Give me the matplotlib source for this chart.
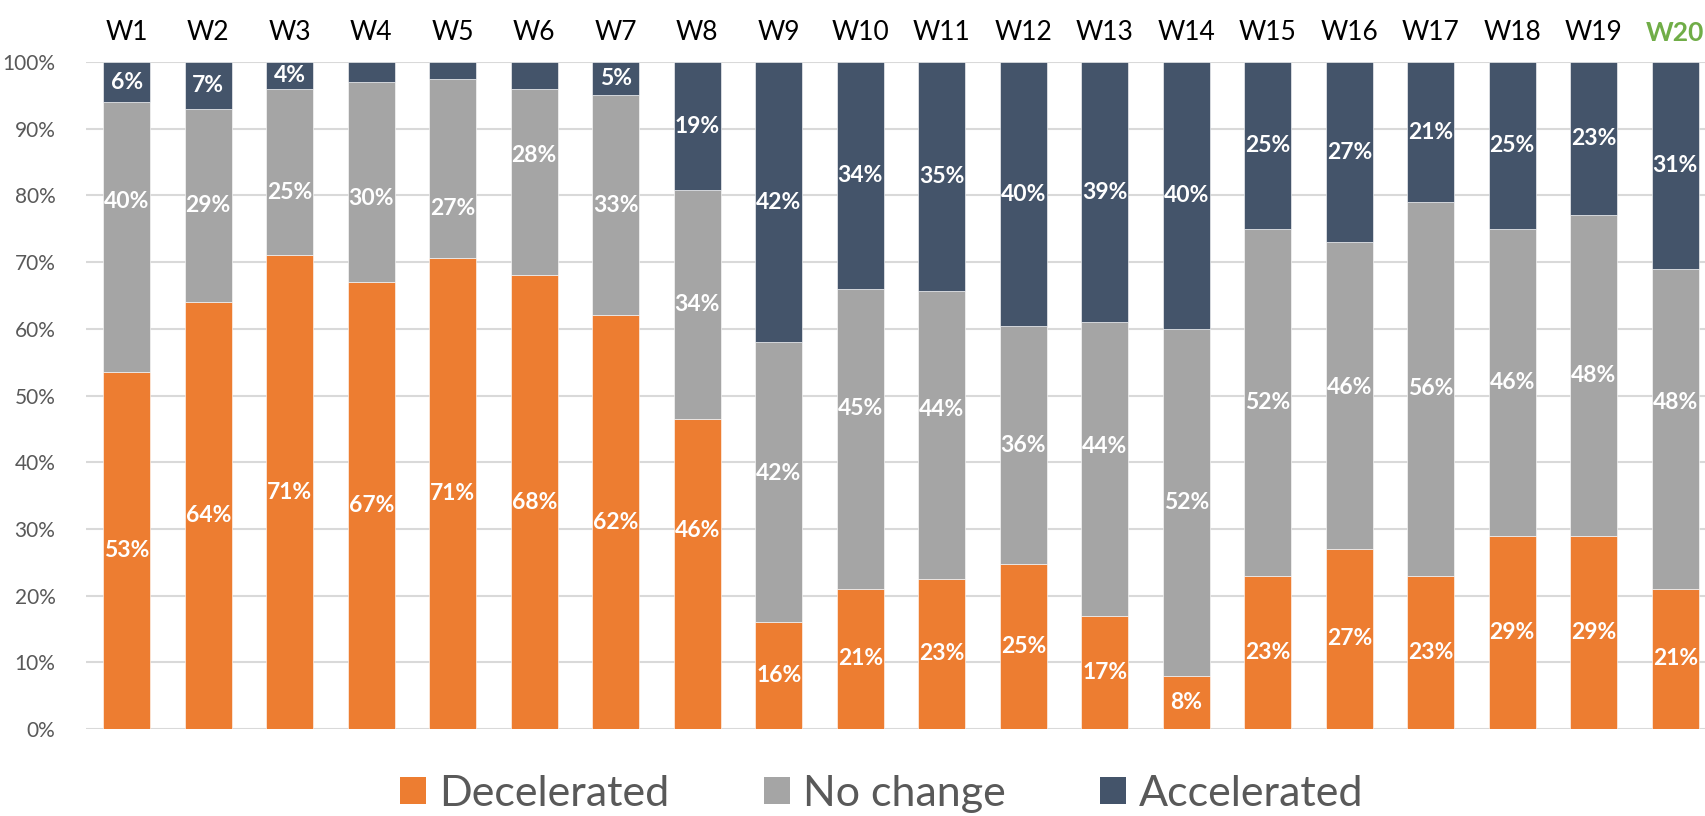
#!/usr/bin/env python3
"""Weekly share of decelerated / no change / accelerated, 100% stacked bars."""
import matplotlib
matplotlib.use('Agg')
import matplotlib.pyplot as plt
from matplotlib.patches import Patch
import numpy as np

weeks = ['W1', 'W2', 'W3', 'W4', 'W5', 'W6', 'W7', 'W8', 'W9', 'W10',
         'W11', 'W12', 'W13', 'W14', 'W15', 'W16', 'W17', 'W18', 'W19', 'W20']
decelerated = [53, 64, 71, 67, 71, 68, 62, 46, 16, 21,
               23, 25, 17, 8, 23, 27, 23, 29, 29, 21]
no_change = [40, 29, 25, 30, 27, 28, 33, 34, 42, 45,
             44, 36, 44, 52, 52, 46, 56, 46, 48, 48]
accelerated = [6, 7, 4, 3, 2.5, 4, 5, 19, 42, 34,
               35, 40, 39, 40, 25, 27, 21, 25, 23, 31]
# weeks whose accelerated label is not shown
hidden_acc = {'W4', 'W5', 'W6'}

series_names = ['Decelerated', 'No change', 'Accelerated']
colors = ['#ED7D31', '#A5A5A5', '#44546A']

# label nudges (percentage points) where labels sit off-centre in the original
label_shift = {
    ('No change', 'W1'): 5.4, ('No change', 'W3'): -3.0,
    ('No change', 'W4'): -2.4, ('No change', 'W5'): -6.0,
    ('No change', 'W6'): 4.0, ('No change', 'W9'): 1.3,
    ('No change', 'W10'): 4.5, ('No change', 'W11'): 3.8,
    ('No change', 'W13'): 3.4, ('No change', 'W16'): 1.2,
    ('No change', 'W20'): 4.0, ('Decelerated', 'W8'): 6.5,
}

plt.rcParams['font.family'] = ['Lato', 'DejaVu Sans']

data = np.array([decelerated, no_change, accelerated], dtype=float)
shares = data / data.sum(axis=0) * 100

fig = plt.figure(figsize=(17.06, 8.16), dpi=100)
ax = fig.add_axes([86 / 1706, 87 / 816, 1630 / 1706, 667 / 816])

x = np.arange(len(weeks))
bottom = np.zeros(len(weeks))
for name, color, raw, vals in zip(series_names, colors, data, shares):
    ax.bar(x, vals, bottom=bottom, width=0.575, color=color,
           edgecolor='white', linewidth=0.4, zorder=2)
    for i, wk in enumerate(weeks):
        if name == 'Accelerated' and wk in hidden_acc:
            continue
        y = bottom[i] + vals[i] / 2 + label_shift.get((name, wk), 0)
        ax.text(x[i], y, f'{raw[i]:.0f}%', ha='center', va='center',
                color='white', fontsize=16.5, fontweight='bold', zorder=3)
    bottom += vals

ax.set_xlim(-0.5, len(weeks) - 0.5)
ax.set_ylim(0, 100)
ax.set_yticks(np.arange(0, 101, 10))
ax.set_yticklabels([f'{v}%' for v in range(0, 101, 10)])
ax.tick_params(axis='y', length=0, pad=22, labelsize=15, labelcolor='#595959')
ax.grid(axis='y', color='#D9D9D9', linewidth=1.5, zorder=0)
ax.set_axisbelow(True)
for sp in ax.spines.values():
    sp.set_visible(False)

# week names along the top
ax.xaxis.tick_top()
ax.set_xticks(x)
ax.set_xticklabels(weeks)
ax.tick_params(axis='x', length=0, pad=12, labelsize=19)
for lbl in ax.get_xticklabels():
    if lbl.get_text() == 'W20':
        lbl.set_color('#70AD47')
        lbl.set_fontweight('bold')

handles = [Patch(facecolor=c, label=n) for n, c in zip(series_names, colors)]
fig.legend(handles=handles, loc='center', bbox_to_anchor=(0.517, 0.027),
           ncol=3, frameon=False, fontsize=31, labelcolor='#595959',
           handlelength=0.6, handleheight=0.6, handletextpad=0.3,
           columnspacing=2.2)

fig.savefig('out.png', dpi=100)
